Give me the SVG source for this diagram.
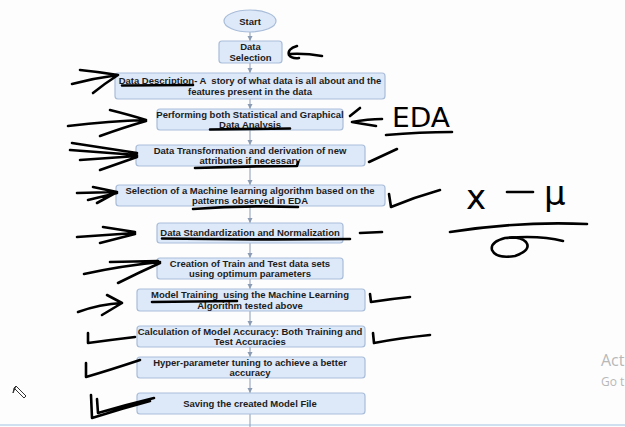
<svg xmlns="http://www.w3.org/2000/svg" width="625" height="427" viewBox="0 0 625 427">
<style>
.box{fill:#dde8f8;stroke:#a9bdd9;stroke-width:1.2}
.t{font-family:"Liberation Sans",Arial,sans-serif;font-weight:bold;font-size:9.5px;fill:#1c1c1c;text-anchor:middle}
.c{stroke:#8a9bb3;stroke-width:1;fill:none}
.h{stroke:#000;stroke-width:2.6;fill:none;stroke-linecap:round;stroke-linejoin:round}
.hw{font-family:"DejaVu Sans",sans-serif;fill:#000}
.wm{font-family:"Open Sans","Liberation Sans",sans-serif;fill:#b8b8b8}
</style>
<defs>
<marker id="ah" markerWidth="6" markerHeight="6" refX="5" refY="3" orient="auto" markerUnits="userSpaceOnUse">
<path d="M0,0.5 L5,3 L0,5.5 Z" fill="#8a9bb3"/>
</marker>
</defs>
<rect width="625" height="427" fill="#fdfdfd"/>
<line x1="0" y1="425" x2="625" y2="425" stroke="#cfe0f0" stroke-width="2"/>

<g id="connectors">
<line class="c" x1="250" y1="32" x2="250" y2="41" marker-end="url(#ah)"/>
<line class="c" x1="250" y1="63" x2="250" y2="73" marker-end="url(#ah)"/>
<line class="c" x1="250" y1="99" x2="250" y2="109" marker-end="url(#ah)"/>
<line class="c" x1="250" y1="130" x2="250" y2="145" marker-end="url(#ah)"/>
<line class="c" x1="250" y1="166" x2="250" y2="185" marker-end="url(#ah)"/>
<line class="c" x1="250" y1="206" x2="250" y2="223" marker-end="url(#ah)"/>
<line class="c" x1="250" y1="243" x2="250" y2="258" marker-end="url(#ah)"/>
<line class="c" x1="250" y1="279" x2="250" y2="289" marker-end="url(#ah)"/>
<line class="c" x1="250" y1="311" x2="250" y2="326" marker-end="url(#ah)"/>
<line class="c" x1="250" y1="347" x2="250" y2="357" marker-end="url(#ah)"/>
<line class="c" x1="250" y1="378" x2="250" y2="393" marker-end="url(#ah)"/>
<line class="c" x1="250" y1="414" x2="250" y2="427"/>
</g>

<g id="start"><ellipse class="box" cx="250" cy="21" rx="26" ry="11"/><text class="t" x="250" y="24.5">Start</text></g>
<g id="data-selection"><rect class="box" x="219" y="41" width="63" height="22" rx="3"/><text class="t" x="250.5" y="50">Data</text><text class="t" x="250.5" y="60.5">Selection</text></g>
<g id="data-description"><rect class="box" x="115" y="73" width="270" height="26" rx="3"/><text class="t" x="250" y="83.5" xml:space="preserve">Data Description- A  story of what data is all about and the</text><text class="t" x="250" y="94.5">features present in the data</text></g>
<g id="eda"><rect class="box" x="157" y="109" width="186" height="21" rx="3"/><text class="t" x="250" y="117.5">Performing both Statistical and Graphical</text><text class="t" x="250" y="127.5">Data Analysis</text></g>
<g id="transformation"><rect class="box" x="136" y="145" width="229" height="21" rx="3"/><text class="t" x="250" y="153.5">Data Transformation and derivation of new</text><text class="t" x="250" y="163.5">attributes if necessary</text></g>
<g id="algorithm"><rect class="box" x="116" y="185" width="269" height="21" rx="3"/><text class="t" x="250" y="193.5">Selection of a Machine learning algorithm based on the</text><text class="t" x="250" y="203.5">patterns observed in EDA</text></g>
<g id="standardization"><rect class="box" x="157" y="223" width="186" height="20" rx="3"/><text class="t" x="250" y="235.5">Data Standardization and Normalization</text></g>
<g id="train-test"><rect class="box" x="157" y="258" width="186" height="21" rx="3"/><text class="t" x="250" y="267">Creation of Train and Test data sets</text><text class="t" x="250" y="277">using optimum parameters</text></g>
<g id="training"><rect class="box" x="137" y="289" width="228" height="22" rx="3"/><text class="t" x="250" y="298" xml:space="preserve">Model Training  using the Machine Learning</text><text class="t" x="250" y="308.5">Algorithm tested above</text></g>
<g id="accuracy"><rect class="box" x="137" y="326" width="228" height="21" rx="3"/><text class="t" x="250" y="335">Calculation of Model Accuracy: Both Training and</text><text class="t" x="250" y="345">Test Accuracies</text></g>
<g id="tuning"><rect class="box" x="137" y="357" width="228" height="21" rx="3"/><text class="t" x="250" y="366">Hyper-parameter tuning to achieve a better</text><text class="t" x="250" y="376">accuracy</text></g>
<g id="saving"><rect class="box" x="137" y="393" width="228" height="21" rx="3"/><text class="t" x="250" y="406.5">Saving the created Model File</text></g>

<g id="annotations">
<path class="h" d="M297,46 Q287,49 289,55 Q292,59 299,58 M289,54 Q305,53 322,56"/>
<path class="h" d="M72,84 Q95,78 118,75 M80,70 Q100,72 118,75 Q104,84 93,93"/>
<path class="h" d="M122,85.5 L193,85"/>
<path class="h" d="M110,110 Q130,115 146,120 M68,126 Q110,121 146,120 M100,136 Q125,127 146,121"/>
<path class="h" stroke-width="3" d="M210,129.5 L290,128.5"/>
<path class="h" d="M350,116 L360,108 M352,122 Q368,119 382,119 M352,122 Q363,124 376,126"/>
<text class="hw" x="392" y="127" font-size="26" textLength="58" lengthAdjust="spacingAndGlyphs">EDA</text>
<path class="h" stroke-width="3" d="M386,135 Q420,132 452,132"/>
<path class="h" d="M72,143 L137,153 M70,150 L137,155 M80,160 L137,156 M100,170 L137,157"/>
<path class="h" stroke-width="3.2" d="M195,168 Q250,166 297,166 L298,162"/>
<path class="h" d="M369,162 L397,149"/>
<path class="h" d="M77,193 L117,192 M93,187 L117,192 L97,203 M88,200 L117,193"/>
<path class="h" d="M193,209 Q245,205 298,207"/>
<path class="h" stroke-width="3" d="M389,194 L391,207 Q415,197 440,190"/>
<text class="hw" x="466" y="209" font-size="34">x</text>
<path class="h" d="M507,192 L533,192"/>
<text class="hw" x="544" y="205" font-size="34">μ</text>
<path class="h" d="M450,232 Q520,221 587,224"/>
<path class="h" d="M505,238 Q490,242 492,250 Q496,259 515,256 Q532,250 526,242 Q520,236 505,238 Q540,235 563,241"/>
<path class="h" d="M77,237 L135,233 M103,227 L135,232 M100,243 L135,234"/>
<path class="h" d="M162,238.5 Q255,240 350,239"/>
<path class="h" d="M360,233 L382,232"/>
<path class="h" d="M84,274 Q120,266 160,262 M110,262 L158,261 M118,283 Q140,272 160,263"/>
<path class="h" d="M78,312 Q100,304 122,303 M107,295 L122,303 L102,315"/>
<path class="h" stroke-width="3" d="M152,302 L237,301"/>
<path class="h" d="M370,294 L371,302 Q390,299 410,297"/>
<path class="h" d="M88,333 L88,343 Q110,340 135,337"/>
<path class="h" d="M373,333 L374,343 Q400,338 430,335"/>
<path class="h" d="M86,363 L86,377 Q110,370 140,360"/>
<path class="h" d="M91,395 L92,418 Q120,409 150,401 M97,399 L98,413 Q125,405 154,398"/>
</g>

<g id="cursor">
<path d="M16,386 L26,396 L24,398 L14,388 Z M14,388 L13,393 L16,386" fill="#fff" stroke="#333" stroke-width="1"/>
</g>

<text class="wm" x="601" y="366" font-size="16">Act</text>
<text class="wm" x="601" y="386" font-size="12">Go t</text>
</svg>
